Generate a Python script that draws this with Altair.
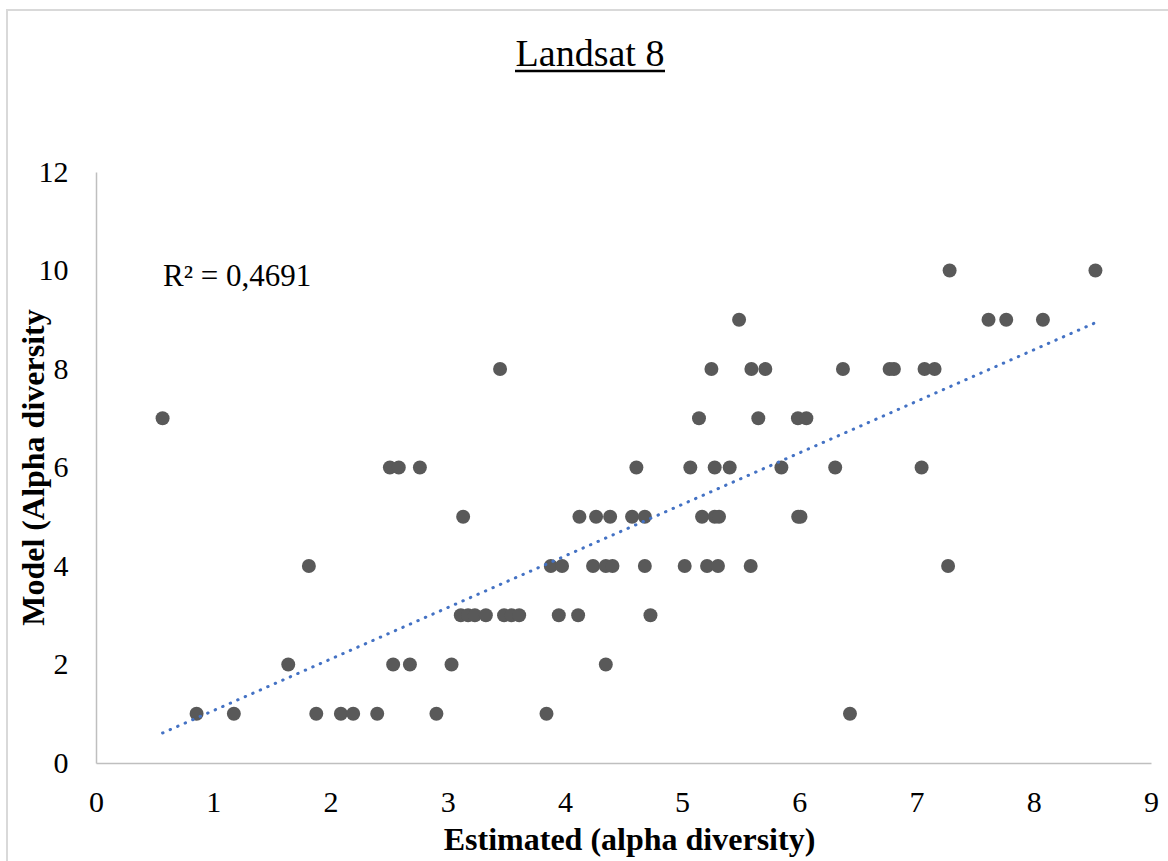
import altair as alt
import pandas as pd

# Estimated (alpha diversity) values grouped by their Model value
est_m1 = [0.858, 1.176, 1.879, 2.089, 2.194, 2.399, 2.904, 3.843, 6.432]
est_m2 = [1.640, 2.535, 2.678, 3.033, 4.349]
est_m3 = [3.112, 3.174, 3.232, 3.326, 3.481, 3.545, 3.610, 3.948, 4.113, 4.730]
est_m4 = [1.816, 3.880, 3.976, 4.240, 4.349, 4.406, 4.682, 5.022, 5.213, 5.306, 5.585, 7.269]
est_m5 = [3.132, 4.124, 4.266, 4.386, 4.573, 4.682, 5.170, 5.278, 5.315, 5.990, 6.010]
est_m6 = [2.507, 2.583, 2.763, 4.610, 5.070, 5.278, 5.406, 5.847, 6.306, 7.043]
est_m7 = [0.568, 5.144, 5.650, 5.988, 6.060]
est_m8 = [3.447, 5.250, 5.591, 5.710, 6.372, 6.770, 6.807, 7.068, 7.154]
est_m9 = [5.486, 7.614, 7.765, 8.078]
est_m10 = [7.282, 8.526]

model_levels = [1, 2, 3, 4, 5, 6, 7, 8, 9, 10]
groups = [est_m1, est_m2, est_m3, est_m4, est_m5, est_m6, est_m7, est_m8, est_m9, est_m10]

# linear trendline end points
trend_est = [0.568, 8.526]
trend_model = [0.61, 8.94]

x_ticks = [0, 1, 2, 3, 4, 5, 6, 7, 8, 9]
y_ticks = [0, 2, 4, 6, 8, 10, 12]

title_text = "Landsat 8"
r2_text = "R² = 0,4691"
x_title = "Estimated (alpha diversity)"
y_title = "Model (Alpha diversity"

rows = []
for m, xs in zip(model_levels, groups):
    for v in xs:
        rows.append({"est": v, "model": m})
df = pd.DataFrame(rows)
trend_df = pd.DataFrame({"est": trend_est, "model": trend_model})

W, H = 1055, 591
SERIF = "Liberation Serif"

xscale = alt.Scale(domain=[0, 9], nice=False, zero=False)
yscale = alt.Scale(domain=[0, 12], nice=False, zero=False)

xaxis = alt.Axis(
    values=x_ticks, format="d", ticks=False, grid=False, domainColor="#BFBFBF", domainWidth=1.5,
    labelFont=SERIF, labelFontSize=30, labelColor="black", labelPadding=24,
    title=x_title, titleFont=SERIF, titleFontSize=32, titleFontWeight="bold",
    titleColor="black", titleX=533, titleY=76, titleAlign="center", titleBaseline="middle",
    labelFlush=False,
)
yaxis = alt.Axis(
    values=y_ticks, format="d", ticks=False, grid=False, domainColor="#BFBFBF", domainWidth=1.5,
    labelFont=SERIF, labelFontSize=30, labelColor="black", labelPadding=28,
    title=y_title, titleFont=SERIF, titleFontSize=32, titleFontWeight="bold",
    titleColor="black", titleAngle=270, titleX=-63, titleY=295,
    titleAlign="center", titleBaseline="middle", labelFlush=False,
)

points = alt.Chart(df).mark_circle(size=195, color="#595959", opacity=1).encode(
    x=alt.X("est:Q", scale=xscale, axis=xaxis),
    y=alt.Y("model:Q", scale=yscale, axis=yaxis),
)

trend = alt.Chart(trend_df).mark_line(
    color="#4472C4", strokeWidth=3, strokeDash=[0.5, 7.7], strokeCap="round"
).encode(
    x=alt.X("est:Q", scale=xscale),
    y=alt.Y("model:Q", scale=yscale),
)

r2 = alt.Chart(alt.Data(values=[{"t": r2_text}])).mark_text(
    align="left", baseline="alphabetic", font=SERIF, fontSize=31, color="black"
).encode(text="t:N", x=alt.value(67), y=alt.value(114))

title = alt.Chart(alt.Data(values=[{"t": title_text}])).mark_text(
    align="center", baseline="alphabetic", font=SERIF, fontSize=38, color="black"
).encode(text="t:N", x=alt.value(494), y=alt.value(-106))

underline = alt.Chart(alt.Data(values=[{"t": title_text}])).mark_rule(
    color="black", strokeWidth=2.5
).encode(x=alt.value(419), x2=alt.value(569), y=alt.value(-101))

border = alt.Chart(alt.Data(values=[{"t": ""}])).mark_rect(
    filled=False, stroke="#D9D9D9", strokeWidth=2
).encode(x=alt.value(-89), x2=alt.value(1080), y=alt.value(-162), y2=alt.value(700))

chart = alt.layer(border, points, trend, r2, title, underline).properties(
    width=W, height=H,
    autosize=alt.AutoSizeParams(type="none"),
    padding={"left": 96, "top": 172, "right": 17, "bottom": 98},
    background="white",
).configure_view(stroke=None)

chart.save("out.html", embed_options={"renderer": "svg", "actions": False})
